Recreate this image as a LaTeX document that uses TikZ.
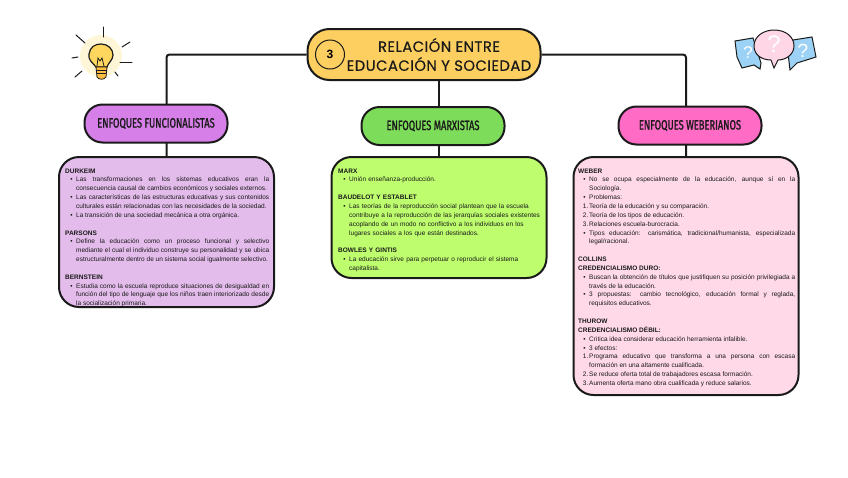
\documentclass[tikz,border=0pt]{standalone}
\usepackage{fontspec}
\usetikzlibrary{positioning,backgrounds}
\setmainfont{Liberation Sans}
\newfontfamily\titlefont[LetterSpace=3,FakeBold=0.4]{Poppins}
\newfontfamily\headfont[FakeStretch=0.69,FakeBold=1.2]{Fira Sans}
\definecolor{titleyellow}{HTML}{FDCF60}
\definecolor{funcpurple}{HTML}{D67FE8}
\definecolor{funclight}{HTML}{E3BCEB}
\definecolor{marxgreen}{HTML}{7EDC5B}
\definecolor{marxlight}{HTML}{BDFD6E}
\definecolor{webpink}{HTML}{FF6BC5}
\definecolor{weblight}{HTML}{FFD9E8}
\definecolor{ink}{HTML}{1A1A1A}
\definecolor{bubbleblue}{HTML}{9CD2F5}
\definecolor{bubblepink}{HTML}{FFD6E6}
\definecolor{bulbyellow}{HTML}{FFD75E}
\newcommand{\nohyph}{\hyphenpenalty=10000 \exhyphenpenalty=10000\relax}
\tikzstyle{link} = [line width=2pt,draw=ink,rounded corners=3pt]
\tikzstyle{heading} = [draw=ink,line width=2pt,rounded corners=18pt,minimum width=143pt,minimum height=38pt,inner sep=0pt,font=\headfont\fontsize{13.5}{14}\selectfont,text=ink]
\tikzstyle{panel} = [draw=ink,line width=2pt,rounded corners=20pt,inner sep=0pt]
\tikzstyle{body} = [anchor=north west,inner sep=0pt,text=ink,font=\fontsize{6.5}{8.85}\selectfont\nohyph]
\tikzstyle{ray} = [line width=1pt,draw=ink,line cap=round]
\newcommand{\bhead}[1]{\par\noindent\textbf{#1}\par}
\newcommand{\bgap}{\par\vskip 8.85pt}
\newcommand{\bitem}[1]{\par\hangindent=11pt\hangafter=0\noindent\llap{\textbullet\hskip 3.5pt}#1\par}
\newcommand{\nitem}[2]{\par\hangindent=11pt\hangafter=0\noindent\llap{#1\hskip 0.8pt}#2\par}
\begin{document}
\begin{tikzpicture}[x=1pt,y=-1pt]
	\useasboundingbox (0,0) rectangle (848,477);
	%Title
	\node[draw=ink,line width=2pt,fill=titleyellow,rounded corners=22pt,minimum width=233pt,minimum height=51pt] (title) at (424,54.5) {};
	\node[draw=ink,line width=1pt,circle,minimum size=29pt,inner sep=0pt,font=\bfseries\fontsize{12}{12}\selectfont] (number) at (330,54.5) {3};
	\node[align=center,inner sep=0pt,text=ink,font=\titlefont\fontsize{14.8}{19}\selectfont] (titletext) at (439,54.5) {RELACIÓN ENTRE\\EDUCACIÓN Y SOCIEDAD};

	%Headings
	\node[heading,fill=funcpurple] (enfFunc) at (156,123.5) {ENFOQUES FUNCIONALISTAS};
	\node[heading,fill=marxgreen] (enfMarx) at (433,126) {ENFOQUES MARXISTAS};
	\node[heading,fill=webpink] (enfWeb) at (690,125.5) {ENFOQUES WEBERIANOS};

	%Panels
	\node[panel,fill=funclight,minimum width=215pt,minimum height=150pt] (boxFunc) at (166.5,232) {};
	\node[panel,fill=marxlight,minimum width=215pt,minimum height=121pt] (boxMarx) at (439,217.5) {};
	\node[panel,fill=weblight,minimum width=225pt,minimum height=238pt] (boxWeb) at (686,276) {};

	%Panel texts
	\node[body,text width=204pt,align=justify] (textFunc) at (65,164) {%
		\bhead{DURKEIM}
		\bitem{Las transformaciones en los sistemas educativos eran la\linebreak consecuencia causal de cambios económicos y sociales externos.}
		\bitem{Las características de las estructuras educativas y sus contenidos\linebreak culturales están relacionadas con las necesidades de la sociedad.}
		\bitem{La transición de una sociedad mecánica a otra orgánica.}
		\bgap
		\bhead{PARSONS}
		\bitem{Define la educación como un proceso funcional y selectivo\linebreak mediante el cual el individuo construye su personalidad y se ubica\linebreak estructuralmente dentro de un sistema social igualmente selectivo.}
		\bgap
		\bhead{BERNSTEIN}
		\bitem{Estudia como la escuela reproduce situaciones de desigualdad en\linebreak función del tipo de lenguaje que los niños traen interiorizado desde\linebreak la socialización primaria.}
	};
	\node[body,text width=206pt,align=left] (textMarx) at (338,164) {%
		\bhead{MARX}
		\bitem{Unión enseñanza-producción.}
		\bgap
		\bhead{BAUDELOT Y ESTABLET}
		\bitem{Las teorías de la reproducción social plantean que la escuela\newline contribuye a la reproducción de las jerarquías sociales existentes\newline acoplando de un modo no conflictivo a los individuos en los\newline lugares sociales a los que están destinados.}
		\bgap
		\bhead{BOWLES Y GINTIS}
		\bitem{La educación sirve para perpetuar o reproducir el sistema\newline capitalista.}
	};
	\node[body,text width=217pt,align=justify] (textWeb) at (578,164) {%
		\bhead{WEBER}
		\bitem{No se ocupa especialmente de la educación, aunque sí en la\linebreak Sociología.}
		\bitem{Problemas:}
		\nitem{1.}{Teoría de la educación y su comparación.}
		\nitem{2.}{Teoría de los tipos de educación.}
		\nitem{3.}{Relaciones escuela-burocracia.}
		\bitem{Tipos educación: carismática, tradicional/humanista, especializada\linebreak legal/racional.}
		\bgap
		\bhead{COLLINS}
		\bhead{CREDENCIALISMO DURO:}
		\bitem{Buscan la obtención de títulos que justifiquen su posición privilegiada a\linebreak través de la educación.}
		\bitem{3 propuestas: cambio tecnológico, educación formal y reglada,\linebreak requisitos educativos.}
		\bgap
		\bhead{THUROW}
		\bhead{CREDENCIALISMO DÉBIL:}
		\bitem{Critica idea considerar educación herramienta infalible.}
		\bitem{3 efectos:}
		\nitem{1.}{Programa educativo que transforma a una persona con escasa\linebreak formación en una altamente cualificada.}
		\nitem{2.}{Se reduce oferta total de trabajadores escasa formación.}
		\nitem{3.}{Aumenta oferta mano obra cualificada y reduce salarios.}
	};

	%Connectors
	\begin{scope}[on background layer]
		\draw[link] (title.west) -| (boxFunc.north);
		\draw[link] (title.south -| boxMarx.north) -- (boxMarx.north);
		\draw[link] (title.east) -| (boxWeb.north);
	\end{scope}

	%Bulb
	\fill[bulbyellow!25] (101,56) circle (21);
	\foreach \xa/\ya/\xb/\yb in {103/27/103/37,76/35/85/43,72/58/78/57,75/77/82/71,122/47/130/42,120/62/132/62,115/72/118/76}
		\draw[ray] (\xa,\ya) -- (\xb,\yb);
	\filldraw[fill=bulbyellow,draw=ink,line width=1.2pt] (96,67) .. controls (92,62) and (88,60) .. (89,54) .. controls (90,47) and (95,44) .. (101,44) .. controls (108,44) and (113,49) .. (113,55) .. controls (113,60) and (108,63) .. (107,67) -- cycle;
	\draw[ink,line width=0.8pt] (97,66) -- (98,58) -- (100,61) -- (102,58) -- (104,66);
	\filldraw[fill=bulbyellow!70!orange,draw=ink,line width=0.8pt] (96,67) -- (107,67) -- (106,77) .. controls (104,80) and (99,80) .. (97,77) -- cycle;
	\draw[ink,line width=0.6pt] (96,70) -- (107,70) (97,73.5) -- (106,73.5);

	%Bubbles
	\filldraw[fill=bubbleblue,draw=ink,line width=1pt] (735,41) -- (753,38) -- (761,63) -- (760,69) -- (754,65) -- (742,68) -- (737,57) -- cycle;
	\filldraw[fill=bubbleblue,draw=ink,line width=1pt] (793,40) -- (812,37) -- (816,57) -- (797,63) -- (790,70) -- (788,53) -- cycle;
	\filldraw[fill=bubblepink,draw=ink,line width=1pt] (754,46) .. controls (754,36) and (764,30) .. (774,30) .. controls (786,30) and (794,37) .. (794,46) .. controls (794,55) and (785,60) .. (778,60) -- (774,68) -- (771,60) .. controls (762,60) and (754,55) .. (754,46) -- cycle;
	\node[white,font=\fontsize{17}{17}\selectfont,inner sep=0pt] (askLeft) at (748,53) {?};
	\node[white,font=\fontsize{24}{24}\selectfont,inner sep=0pt] (askMid) at (774,44) {?};
	\node[white,font=\fontsize{19}{19}\selectfont,inner sep=0pt] (askRight) at (803,51) {?};
\end{tikzpicture}
\end{document}
